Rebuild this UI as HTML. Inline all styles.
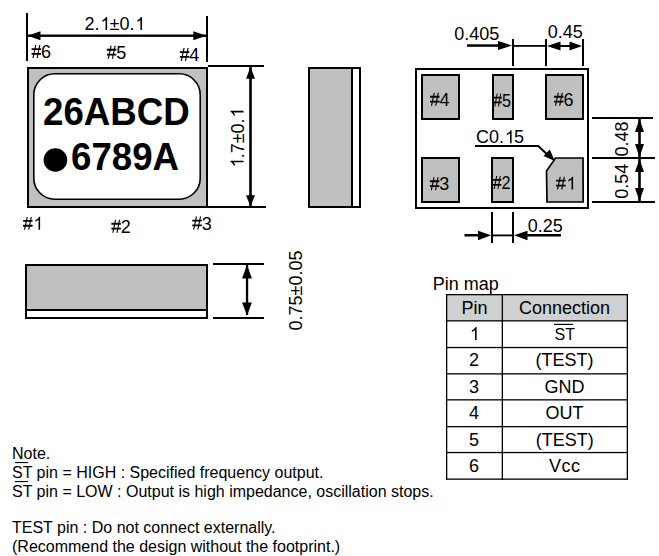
<!DOCTYPE html>
<html><head><meta charset="utf-8"><style>
html,body{margin:0;padding:0;background:#fff;}
body{width:659px;height:556px;overflow:hidden;position:relative;}
svg{position:absolute;left:0;top:0;}
text{font-family:"Liberation Sans",sans-serif;font-size:18px;fill:#000;}
.n text{font-size:16px;}
.h{fill:transparent;}
</style></head><body>
<svg width="659" height="556" viewBox="0 0 659 556">
<defs><path id="hash" d="M0.6,-9.85h9.45v1.8h-9.45z M0.6,-4.95h9.45v1.8h-9.45z M4.18,-12.9h1.15l-2.75,12.9h-1.15z M8.23,-12.9h1.15l-2.6,12.9h-1.15z"/><path id="one" d="M6.706,0 L5.124,0 L5.124,-10.081 Q4.553,-9.536 4.087,-9.264 Q3.621,-8.991 3.155,-8.719 Q2.689,-8.446 1.951,-8.174 L1.951,-9.703 Q3.278,-10.327 3.775,-10.771 Q4.271,-11.215 4.768,-11.659 Q5.265,-12.103 5.678,-12.937 L6.706,-12.937 Z"/></defs>
<rect x="0" y="0" width="659" height="556" fill="#fff"/>

<!-- ===== TOP VIEW ===== -->
<!-- dimension 2.1 -->
<rect x="26" y="13" width="2" height="48" fill="#000"/>
<rect x="206" y="16" width="2" height="46" fill="#000"/>
<rect x="28" y="34.5" width="178" height="2.4" fill="#000"/>
<polygon points="27.5,35.7 40.5,31.2 40.5,40.2" fill="#000"/>
<polygon points="206.5,35.7 193.3,31.2 193.3,40.2" fill="#000"/>
<text x="84.5" y="30">2.<tspan class="h">1</tspan>±0.<tspan class="h">1</tspan></text>
<use href="#one" x="100.4" y="30"/><use href="#one" x="135.3" y="30"/>
<text x="31" y="58"><tspan class="h">#</tspan>6</text><use href="#hash" x="31" y="58"/>
<text x="106.3" y="58.7"><tspan class="h">#</tspan>5</text><use href="#hash" x="106.3" y="58.7"/>
<text x="179.3" y="61"><tspan class="h">#</tspan>4</text><use href="#hash" x="179.3" y="61"/>

<!-- chip -->
<rect x="27" y="67" width="181" height="141" fill="#000"/>
<rect x="29" y="69" width="177" height="137" fill="#c0c0c0"/>
<rect x="33.8" y="73.8" width="166.4" height="125.4" rx="21" ry="21" fill="#fff" stroke="#000" stroke-width="1.6"/>
<text transform="translate(43,124.6) scale(0.94,1)" style="font-size:39px;font-weight:bold">26ABCD</text>
<circle cx="55.4" cy="160" r="11.8" fill="#000"/>
<text transform="translate(71,169.9) scale(0.94,1)" style="font-size:39px;font-weight:bold">6789A</text>

<text x="22.5" y="229.8"><tspan class="h">#</tspan><tspan class="h">1</tspan></text><use href="#hash" x="22.5" y="229.8"/><use href="#one" x="33.4" y="229.8"/>
<text x="110.8" y="232.7"><tspan class="h">#</tspan>2</text><use href="#hash" x="110.8" y="232.7"/>
<text x="191.7" y="229.5"><tspan class="h">#</tspan>3</text><use href="#hash" x="191.7" y="229.5"/>

<!-- dimension 1.7 -->
<rect x="208" y="65" width="56" height="2" fill="#000"/>
<rect x="208" y="206" width="58" height="2" fill="#000"/>
<rect x="249.2" y="67" width="2.6" height="139" fill="#000"/>
<polygon points="250.5,67 246,78.8 255,78.8" fill="#000"/>
<polygon points="250.5,206.5 246,195.2 255,195.2" fill="#000"/>
<g transform="translate(243.5,168.3) rotate(-90)"><text><tspan class="h">1</tspan>.7±0.<tspan class="h">1</tspan></text><use href="#one" x="0.9" y="0"/><use href="#one" x="50.8" y="0"/></g>

<!-- side view -->
<rect x="308" y="67" width="53" height="141" fill="#000"/>
<rect x="310" y="69" width="41" height="137" fill="#c0c0c0"/>
<rect x="353" y="69" width="6" height="137" fill="#fff"/>

<!-- bottom view -->
<rect x="25" y="264" width="183" height="55" fill="#000"/>
<rect x="27" y="266" width="179" height="43" fill="#c0c0c0"/>
<rect x="27" y="311" width="179" height="6" fill="#fff"/>

<!-- dimension 0.75 -->
<rect x="213" y="263" width="51" height="2" fill="#000"/>
<rect x="213" y="317" width="51" height="2" fill="#000"/>
<rect x="245.9" y="265" width="2.3" height="50" fill="#000"/>
<polygon points="247,264.8 242.1,278.4 251.9,278.4" fill="#000"/>
<polygon points="247,315.6 242.1,302.5 251.9,302.5" fill="#000"/>
<text transform="translate(302,330.5) rotate(-90)">0.75±0.05</text>

<!-- ===== LAND PATTERN ===== -->
<rect x="415" y="68" width="174" height="141" fill="#000"/>
<rect x="417" y="70" width="170" height="137" fill="#fff"/>
<!-- pads -->
<rect x="421" y="74" width="39" height="46" fill="#000"/>
<rect x="423" y="76" width="35" height="42" fill="#c0c0c0"/>
<rect x="492" y="74" width="22" height="46" fill="#000"/>
<rect x="494" y="76" width="18" height="42" fill="#c0c0c0"/>
<rect x="545" y="74" width="39" height="46" fill="#000"/>
<rect x="547" y="76" width="35" height="42" fill="#c0c0c0"/>
<rect x="421" y="157" width="39" height="46" fill="#000"/>
<rect x="423" y="159" width="35" height="42" fill="#c0c0c0"/>
<rect x="491" y="157" width="23" height="46" fill="#000"/>
<rect x="493" y="159" width="19" height="42" fill="#c0c0c0"/>
<polygon points="555.5,158 583,158 583.2,202 547,202 546.5,171" fill="#c0c0c0" stroke="#000" stroke-width="1.7"/>

<text x="429.5" y="105.7"><tspan class="h">#</tspan>4</text><use href="#hash" x="429.5" y="105.7"/>
<text x="493" y="106.5" textLength="18" lengthAdjust="spacingAndGlyphs"><tspan class="h">#</tspan>5</text><use href="#hash" transform="translate(493,106.5) scale(0.88,1)"/>
<text x="553.5" y="105.7"><tspan class="h">#</tspan>6</text><use href="#hash" x="553.5" y="105.7"/>
<text x="429.3" y="190.2"><tspan class="h">#</tspan>3</text><use href="#hash" x="429.3" y="190.2"/>
<text x="492.5" y="188.9" textLength="18" lengthAdjust="spacingAndGlyphs"><tspan class="h">#</tspan>2</text><use href="#hash" transform="translate(492.5,188.9) scale(0.88,1)"/>
<text x="555.5" y="189.6"><tspan class="h">#</tspan><tspan class="h">1</tspan></text><use href="#hash" x="555.5" y="189.6"/><use href="#one" x="566.4" y="189.6"/>

<!-- C0.15 leader -->
<text x="476" y="143.3">C0.<tspan class="h">1</tspan>5</text><use href="#one" x="504.9" y="143.3"/>
<polyline points="475,146 538.3,146 547,154.3" fill="none" stroke="#000" stroke-width="2"/>
<polygon points="554.8,161 543.5,156 549.8,149.6" fill="#000"/>

<!-- top dims -->
<text x="454.3" y="39.7">0.405</text>
<text x="547.8" y="37.7">0.45</text>
<rect x="512" y="39" width="2" height="27" fill="#000"/>
<rect x="545" y="39" width="2" height="27" fill="#000"/>
<rect x="582" y="39" width="2" height="27" fill="#000"/>
<rect x="467" y="44.3" width="32" height="2.5" fill="#000"/>
<polygon points="512,45.5 498,41 498,50" fill="#000"/>
<rect x="514" y="45" width="31" height="1.8" fill="#000"/>
<rect x="556" y="45" width="16" height="2" fill="#000"/>
<polygon points="547,46 560.5,41.4 560.5,50.5" fill="#000"/>
<polygon points="582,46 569.5,41.4 569.5,50.5" fill="#000"/>

<!-- right dims -->
<rect x="592" y="117" width="61" height="2" fill="#000"/>
<rect x="592" y="157" width="63" height="2" fill="#000"/>
<rect x="592" y="201" width="63" height="2" fill="#000"/>
<rect x="638.2" y="119" width="2.6" height="38" fill="#000"/>
<rect x="638.2" y="159" width="2.6" height="42" fill="#000"/>
<polygon points="639.5,119 635,132 644,132" fill="#000"/>
<polygon points="639.5,157 635,144 644,144" fill="#000"/>
<polygon points="639.5,159 635,172 644,172" fill="#000"/>
<polygon points="639.5,201 635,188 644,188" fill="#000"/>
<text transform="translate(627.6,156.4) rotate(-90)">0.48</text>
<text transform="translate(628,198.8) rotate(-90)">0.54</text>

<!-- bottom dim 0.25 -->
<rect x="491" y="212" width="2" height="31" fill="#000"/>
<rect x="512" y="212" width="2" height="31" fill="#000"/>
<rect x="464.5" y="234" width="14" height="2.5" fill="#000"/>
<polygon points="491,235.3 478,230.7 478,240.2" fill="#000"/>
<rect x="493" y="234.5" width="19" height="1.8" fill="#000"/>
<polygon points="514,235.3 527.5,230.7 527.5,240.2" fill="#000"/>
<rect x="527" y="234" width="34" height="2.5" fill="#000"/>
<text x="527.7" y="231.7">0.25</text>

<!-- ===== PIN MAP TABLE ===== -->
<text x="432.8" y="289.9">Pin map</text>
<rect x="446" y="294" width="182" height="27" fill="#cfd0d1"/>
<g fill="#000">
<rect x="446" y="294" width="182" height="1.3"/>
<rect x="446" y="320.2" width="182" height="1.3"/>
<rect x="446" y="346.9" width="182" height="1.3"/>
<rect x="446" y="373.2" width="182" height="1.3"/>
<rect x="446" y="399.2" width="182" height="1.3"/>
<rect x="446" y="426" width="182" height="1.3"/>
<rect x="446" y="451.9" width="182" height="1.3"/>
<rect x="446" y="478.5" width="182" height="1.3"/>
<rect x="446" y="294" width="1.3" height="185.8"/>
<rect x="501.7" y="294" width="1.3" height="185.8"/>
<rect x="626.7" y="294" width="1.3" height="185.8"/>
</g>
<g text-anchor="middle">
<text x="474.5" y="314">Pin</text>
<text x="564.5" y="314">Connection</text>
<use href="#one" x="469.9" y="340"/>
<text x="474" y="365.8">2</text>
<text x="474" y="392.5">3</text>
<text x="474" y="418.8">4</text>
<text x="474" y="445.6">5</text>
<text x="474" y="472">6</text>
<text x="564.8" y="339.8" style="font-size:16px">ST</text>
<text x="564.5" y="365.8">(TEST)</text>
<text x="564.5" y="392.5">GND</text>
<text x="564.5" y="418.8">OUT</text>
<text x="564.8" y="445.6">(TEST)</text>
<text x="564.8" y="472" letter-spacing="0.6">Vcc</text>
</g>
<rect x="554" y="323.8" width="19" height="1.2" fill="#000"/>

<!-- ===== NOTES ===== -->
<g class="n">
<text x="12" y="458.7">Note.</text>
<text x="12" y="477.6">ST pin = HIGH : Specified frequency output.</text>
<text x="12" y="496.5">ST pin = LOW : Output is high impedance, oscillation stops.</text>
<text x="12" y="532.8">TEST pin : Do not connect externally.</text>
<text x="12" y="552.2">(Recommend the design without the footprint.)</text>
</g>
<rect x="15" y="462" width="13" height="1.1" fill="#000"/>
<rect x="15" y="481" width="13" height="1.1" fill="#000"/>
</svg>
</body></html>
